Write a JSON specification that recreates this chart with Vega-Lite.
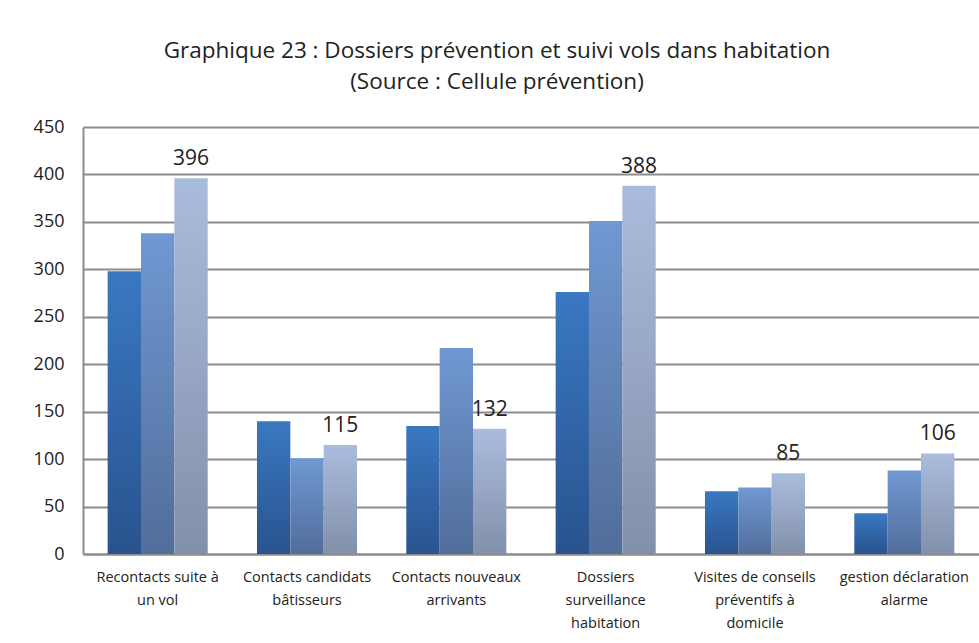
{
  "$schema": "https://vega.github.io/schema/vega-lite/v6.json",
  "autosize": {"type": "none"},
  "width": 896,
  "height": 427,
  "padding": {"left": 83, "top": 127, "right": 0, "bottom": 89},
  "background": "white",
  "title": {
    "text": ["Graphique 23 : Dossiers prévention et suivi vols dans habitation", "(Source : Cellule prévention)"],
    "font": "Open Sans",
    "fontSize": 22.5,
    "fontWeight": "normal",
    "color": "#222222",
    "lineHeight": 31,
    "anchor": "middle",
    "dx": -34,
    "offset": 25
  },
  "data": {
    "values": [
      {"categorie": "Recontacts suite à un vol", "serie": "Série 1", "valeur": 298},
      {"categorie": "Recontacts suite à un vol", "serie": "Série 2", "valeur": 338},
      {"categorie": "Recontacts suite à un vol", "serie": "Série 3", "valeur": 396},
      {"categorie": "Contacts candidats bâtisseurs", "serie": "Série 1", "valeur": 140},
      {"categorie": "Contacts candidats bâtisseurs", "serie": "Série 2", "valeur": 101},
      {"categorie": "Contacts candidats bâtisseurs", "serie": "Série 3", "valeur": 115},
      {"categorie": "Contacts nouveaux arrivants", "serie": "Série 1", "valeur": 135},
      {"categorie": "Contacts nouveaux arrivants", "serie": "Série 2", "valeur": 217},
      {"categorie": "Contacts nouveaux arrivants", "serie": "Série 3", "valeur": 132},
      {"categorie": "Dossiers surveillance habitation", "serie": "Série 1", "valeur": 276},
      {"categorie": "Dossiers surveillance habitation", "serie": "Série 2", "valeur": 351},
      {"categorie": "Dossiers surveillance habitation", "serie": "Série 3", "valeur": 388},
      {"categorie": "Visites de conseils préventifs à domicile", "serie": "Série 1", "valeur": 66},
      {"categorie": "Visites de conseils préventifs à domicile", "serie": "Série 2", "valeur": 70},
      {"categorie": "Visites de conseils préventifs à domicile", "serie": "Série 3", "valeur": 85},
      {"categorie": "gestion déclaration alarme", "serie": "Série 1", "valeur": 43},
      {"categorie": "gestion déclaration alarme", "serie": "Série 2", "valeur": 88},
      {"categorie": "gestion déclaration alarme", "serie": "Série 3", "valeur": 106}
    ]
  },
  "encoding": {
    "x": {
      "field": "categorie",
      "type": "nominal",
      "sort": null,
      "scale": {"paddingInner": 0.33, "paddingOuter": 0.165},
      "axis": {
        "title": null,
        "labelAngle": 0,
        "labelFont": "Open Sans",
        "labelFontSize": 14.5,
        "labelColor": "#222222",
        "labelLineHeight": 23,
        "labelPadding": 16,
        "labelBaseline": "top",
        "ticks": false,
        "domainColor": "#8c8c8c",
        "domainWidth": 2,
        "grid": false,
        "labelExpr": "({'Recontacts suite à un vol': ['Recontacts suite à', 'un vol'], 'Contacts candidats bâtisseurs': ['Contacts candidats', 'bâtisseurs'], 'Contacts nouveaux arrivants': ['Contacts nouveaux', 'arrivants'], 'Dossiers surveillance habitation': ['Dossiers', 'surveillance', 'habitation'], 'Visites de conseils préventifs à domicile': ['Visites de conseils', 'préventifs à', 'domicile'], 'gestion déclaration alarme': ['gestion déclaration', 'alarme']})[datum.value]"
      }
    },
    "xOffset": {"field": "serie", "type": "nominal", "scale": {"domain": ["Série 1", "Série 2", "Série 3"], "paddingInner": 0, "paddingOuter": 0}},
    "y": {
      "field": "valeur",
      "type": "quantitative",
      "scale": {"domain": [0, 450], "nice": false},
      "axis": {
        "title": null,
        "values": [0, 50, 100, 150, 200, 250, 300, 350, 400, 450],
        "labelFont": "Open Sans",
        "labelFontSize": 18,
        "labelColor": "#222222",
        "labelPadding": 19,
        "ticks": false,
        "domainColor": "#8c8c8c",
        "domainWidth": 2,
        "grid": true,
        "gridColor": "#8c8c8c",
        "gridWidth": 2
      }
    }
  },
  "layer": [
    {
      "transform": [{"filter": "datum.serie === 'Série 1'"}],
      "mark": {
        "type": "bar",
        "color": {"gradient": "linear", "x1": 0, "y1": 0, "x2": 0, "y2": 1, "stops": [{"offset": 0, "color": "#3a78c2"}, {"offset": 1, "color": "#29538e"}]}
      }
    },
    {
      "transform": [{"filter": "datum.serie === 'Série 2'"}],
      "mark": {
        "type": "bar",
        "color": {"gradient": "linear", "x1": 0, "y1": 0, "x2": 0, "y2": 1, "stops": [{"offset": 0, "color": "#7098d2"}, {"offset": 1, "color": "#516d9b"}]}
      }
    },
    {
      "transform": [{"filter": "datum.serie === 'Série 3'"}],
      "mark": {
        "type": "bar",
        "color": {"gradient": "linear", "x1": 0, "y1": 0, "x2": 0, "y2": 1, "stops": [{"offset": 0, "color": "#aabcdd"}, {"offset": 1, "color": "#8290a9"}]}
      }
    },
    {
      "transform": [{"filter": "datum.serie === 'Série 3'"}],
      "mark": {"type": "text", "baseline": "bottom", "dy": -9, "font": "Open Sans", "fontSize": 21, "color": "#222222"},
      "encoding": {"text": {"field": "valeur", "type": "quantitative"}}
    }
  ],
  "config": {"view": {"stroke": null}}
}
